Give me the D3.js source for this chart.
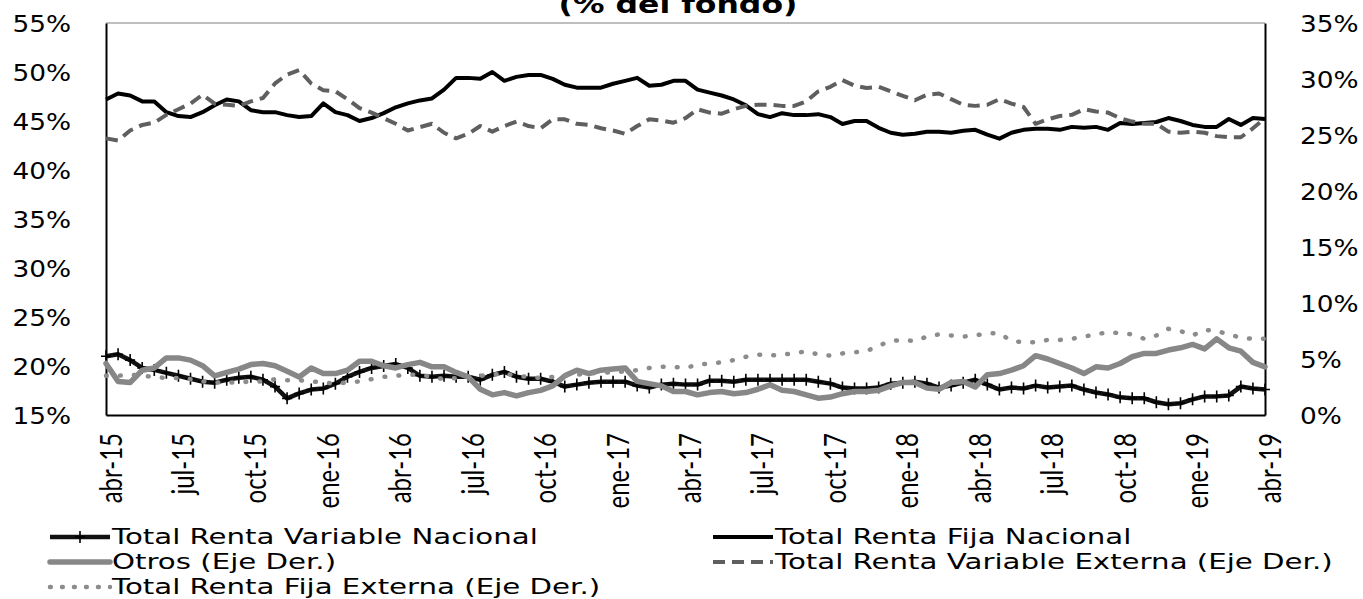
<!DOCTYPE html>
<html>
<head>
<meta charset="utf-8">
<script src="https://cdn.jsdelivr.net/npm/d3@7"></script>
<style>
  html, body { margin: 0; padding: 0; background: #fff; }
  svg { display: block; }
</style>
</head>
<body>
<svg id="chart" width="1363" height="599"></svg>
<script>
// Half-monthly observations, abr-2015 .. abr-2019 (97 points)
const tickLabels = ["abr-15","jul-15","oct-15","ene-16","abr-16","jul-16","oct-16","ene-17",
  "abr-17","jul-17","oct-17","ene-18","abr-18","jul-18","oct-18","ene-19","abr-19"];

// Left axis (% del fondo)
const rentaVariableNacional = [
  21.0,21.2,20.6,19.8,19.6,19.3,19.0,18.7,18.4,18.3,
  18.6,18.8,18.9,18.6,17.9,16.7,17.2,17.6,17.7,18.2,
  18.9,19.4,19.8,20.0,20.2,19.8,19.0,18.9,19.0,18.9,
  18.9,18.6,19.1,19.4,18.9,18.7,18.7,18.4,17.9,18.1,
  18.3,18.4,18.4,18.4,18.0,17.8,18.1,18.2,18.1,18.1,
  18.5,18.5,18.4,18.6,18.6,18.6,18.6,18.6,18.6,18.4,
  18.2,17.8,17.7,17.7,17.8,18.2,18.3,18.4,18.2,17.8,
  18.0,18.3,18.6,18.1,17.6,17.8,17.7,18.0,17.8,17.9,
  18.0,17.6,17.3,17.1,16.8,16.7,16.7,16.3,16.1,16.2,
  16.6,16.9,16.9,17.0,17.9,17.7,17.6];

const rentaFijaNacional = [
  47.2,47.8,47.6,47.0,47.0,45.9,45.5,45.4,45.9,46.6,
  47.2,47.0,46.1,45.9,45.9,45.6,45.4,45.5,46.8,45.9,
  45.6,45.0,45.3,45.8,46.4,46.8,47.1,47.3,48.2,49.4,
  49.4,49.3,50.0,49.1,49.5,49.7,49.7,49.3,48.7,48.4,
  48.4,48.4,48.8,49.1,49.4,48.6,48.7,49.1,49.1,48.2,
  47.9,47.6,47.2,46.6,45.7,45.4,45.8,45.6,45.6,45.7,
  45.4,44.7,45.0,45.0,44.3,43.8,43.6,43.7,43.9,43.9,
  43.8,44.0,44.1,43.6,43.2,43.8,44.1,44.2,44.2,44.1,
  44.4,44.3,44.4,44.1,44.8,44.7,44.8,44.9,45.3,45.0,
  44.6,44.4,44.4,45.2,44.6,45.3,45.2];

// Right axis (Eje Der.)
const otros = [
  4.6,3.0,2.9,4.0,4.2,5.1,5.1,4.9,4.4,3.5,
  3.8,4.1,4.5,4.6,4.4,3.9,3.4,4.2,3.7,3.7,
  4.0,4.8,4.8,4.4,4.2,4.5,4.7,4.3,4.3,3.8,
  3.4,2.3,1.8,2.0,1.7,2.0,2.2,2.6,3.5,4.0,
  3.7,4.0,4.1,4.2,3.0,2.8,2.6,2.1,2.1,1.8,
  2.0,2.1,1.9,2.0,2.3,2.7,2.2,2.1,1.8,1.5,
  1.6,1.9,2.1,2.1,2.2,2.6,2.9,2.9,2.4,2.3,
  2.9,3.0,2.5,3.6,3.7,4.0,4.4,5.3,5.0,4.6,
  4.2,3.7,4.3,4.2,4.6,5.2,5.5,5.5,5.8,6.0,
  6.3,5.9,6.8,6.0,5.7,4.7,4.3];

const rentaVariableExterna = [
  24.7,24.5,25.4,25.9,26.1,26.8,27.3,27.8,28.6,27.8,
  27.7,27.6,28.0,28.3,29.6,30.4,30.8,29.6,29.0,28.9,
  28.2,27.4,27.0,26.5,26.0,25.4,25.7,26.0,25.2,24.7,
  25.1,25.8,25.3,25.8,26.2,25.8,25.6,26.4,26.4,26.0,
  25.9,25.6,25.4,25.1,25.8,26.4,26.3,26.1,26.5,27.3,
  27.0,26.9,27.3,27.6,27.7,27.7,27.6,27.6,28.0,28.9,
  29.3,29.9,29.4,29.2,29.3,28.9,28.5,28.1,28.6,28.7,
  28.2,27.7,27.6,27.7,28.2,27.8,27.5,26.0,26.4,26.7,
  26.8,27.3,27.1,27.0,26.5,26.2,26.0,26.0,25.3,25.2,
  25.3,25.2,24.9,24.8,24.8,25.6,26.5];

const rentaFijaExterna = [
  3.5,3.5,3.6,3.5,3.4,3.3,3.3,3.2,3.0,2.9,
  2.9,2.9,3.0,3.0,3.2,3.1,3.1,3.0,2.9,2.8,
  2.9,3.0,3.2,3.4,3.5,3.6,3.6,3.4,3.2,3.3,
  3.4,3.5,3.6,3.7,3.5,3.4,3.3,3.4,3.5,3.6,
  3.7,3.8,3.8,3.9,4.0,4.2,4.3,4.3,4.2,4.5,
  4.6,4.7,4.9,5.2,5.4,5.3,5.4,5.5,5.7,5.4,
  5.3,5.5,5.6,5.7,6.2,6.6,6.7,6.6,7.0,7.2,
  7.1,7.0,7.1,7.3,7.3,6.6,6.5,6.5,6.7,6.7,
  6.8,7.0,7.2,7.4,7.3,7.2,6.8,7.1,7.7,7.5,
  7.1,7.6,7.5,7.2,6.9,6.8,6.8];

const leftTicks = [15, 20, 25, 30, 35, 40, 45, 50, 55];
const rightTicks = [0, 5, 10, 15, 20, 25, 30, 35];

// ---- layout ----
const plot = { left: 106, right: 1265, top: 23, bottom: 415 };
const SX = 1.26;               // lettering is set slightly wide
const SX_LEGEND = 1.36;
const FONT = "'DejaVu Sans', Verdana, sans-serif";

const svg = d3.select("#chart");

const x = d3.scaleLinear().domain([0, rentaFijaNacional.length - 1]).range([plot.left, plot.right]);
const yL = d3.scaleLinear().domain([15, 55]).range([plot.bottom, plot.top]);
const yR = d3.scaleLinear().domain([0, 35]).range([plot.bottom, plot.top]);

// title (sits mostly above the canvas)
svg.append("text")
  .attr("transform", `translate(678,12.5) scale(${SX},1)`)
  .attr("text-anchor", "middle")
  .attr("font-family", FONT)
  .attr("font-weight", "bold")
  .attr("font-size", 25)
  .attr("fill", "#000")
  .text("(% del fondo)");

// plot frame: thin grey top edge
svg.append("line")
  .attr("x1", plot.left).attr("x2", plot.right)
  .attr("y1", plot.top).attr("y2", plot.top)
  .attr("stroke", "#7f7f7f").attr("stroke-width", 1);

// axes
const pad = 35;
const gL = svg.append("g").attr("transform", `translate(${plot.left},0)`)
  .call(d3.axisLeft(yL).tickValues(leftTicks).tickFormat(d => d + "%").tickSize(0).tickPadding(pad));
const gR = svg.append("g").attr("transform", `translate(${plot.right},0)`)
  .call(d3.axisRight(yR).tickValues(rightTicks).tickFormat(d => d + "%").tickSize(0).tickPadding(pad));
const gB = svg.append("g").attr("transform", `translate(0,${plot.bottom})`)
  .call(d3.axisBottom(x).tickValues(d3.range(0, rentaFijaNacional.length, 6))
    .tickFormat((d, i) => tickLabels[i]).tickSize(0));

[gL, gR, gB].forEach(g => {
  g.select(".domain").attr("stroke", "#000").attr("stroke-width", 2);
  g.selectAll("text").attr("fill", "#000");
});

gL.selectAll("text")
  .attr("x", 0).attr("dy", "0.36em")
  .attr("transform", `translate(${-pad},0) scale(${SX * 0.93},1)`)
  .attr("font-family", FONT).attr("font-size", 22.5);
gR.selectAll("text")
  .attr("x", 0).attr("dy", "0.36em")
  .attr("transform", `translate(${pad},0) scale(${SX * 0.93},1)`)
  .attr("font-family", FONT).attr("font-size", 22.5);
gB.selectAll("text")
  .attr("x", 0).attr("y", 0).attr("dy", null)
  .attr("text-anchor", "end")
  .attr("transform", `translate(15,18) scale(${SX},1) rotate(-90)`)
  .attr("font-family", "Lato, 'Open Sans', sans-serif").attr("font-size", 24);

// series
const lineL = d3.line().x((d, i) => x(i)).y(d => yL(d));
const lineR = d3.line().x((d, i) => x(i)).y(d => yR(d));

const series = svg.append("g").attr("fill", "none")
  .attr("stroke-linejoin", "round");

// Total Renta Variable Nacional: black with "+" markers
series.append("path").datum(rentaVariableNacional)
  .attr("d", lineL).attr("stroke", "#111").attr("stroke-width", 4.5);
series.append("g").selectAll("path").data(rentaVariableNacional).join("path")
  .attr("transform", (d, i) => `translate(${x(i)},${yL(d)})`)
  .attr("d", "M-5,0H5M0,-6V6")
  .attr("stroke", "#000").attr("stroke-width", 1.6);

// Total Renta Fija Nacional: black solid
series.append("path").datum(rentaFijaNacional)
  .attr("d", lineL).attr("stroke", "#000").attr("stroke-width", 4);

// Otros: wide grey
series.append("path").datum(otros)
  .attr("d", lineR).attr("stroke", "#878787").attr("stroke-width", 5.5)
  .attr("stroke-linecap", "round");

// Total Renta Variable Externa: dark grey dashes
series.append("path").datum(rentaVariableExterna)
  .attr("d", lineR).attr("stroke", "#5f5f5f").attr("stroke-width", 4)
  .attr("stroke-dasharray", "12 7");

// Total Renta Fija Externa: grey dots
series.append("path").datum(rentaFijaExterna)
  .attr("d", lineR).attr("stroke", "#8c8c8c").attr("stroke-width", 4.5)
  .attr("stroke-linecap", "round").attr("stroke-dasharray", "0.8 13.2");

// legend
const legendItems = [
  { name: "Total Renta Variable Nacional", col: 0, row: 0, kind: "marker" },
  { name: "Total Renta Fija Nacional", col: 1, row: 0, kind: "solid" },
  { name: "Otros (Eje Der.)", col: 0, row: 1, kind: "wide" },
  { name: "Total Renta Variable Externa (Eje Der.)", col: 1, row: 1, kind: "dash" },
  { name: "Total Renta Fija Externa (Eje Der.)", col: 0, row: 2, kind: "dot" }
];
const colX = [50, 713];
const rowY = [544, 569, 594];
const sampleW = 60;

const leg = svg.append("g");
legendItems.forEach(it => {
  const x0 = colX[it.col], yb = rowY[it.row], ym = yb - 7;
  const g = leg.append("g");
  const ln = g.append("line").attr("x1", x0).attr("x2", x0 + sampleW)
    .attr("y1", ym).attr("y2", ym).attr("fill", "none");
  if (it.kind === "marker") {
    ln.attr("stroke", "#111").attr("stroke-width", 4.5);
    g.append("path").attr("transform", `translate(${x0 + sampleW / 2},${ym})`)
      .attr("d", "M-5,0H5M0,-6V6").attr("stroke", "#000").attr("stroke-width", 1.6);
  } else if (it.kind === "solid") {
    ln.attr("stroke", "#000").attr("stroke-width", 4);
  } else if (it.kind === "wide") {
    ln.attr("stroke", "#878787").attr("stroke-width", 5.5).attr("stroke-linecap", "round");
  } else if (it.kind === "dash") {
    ln.attr("stroke", "#5f5f5f").attr("stroke-width", 4).attr("stroke-dasharray", "12 7");
  } else {
    ln.attr("stroke", "#8c8c8c").attr("stroke-width", 4.5)
      .attr("stroke-linecap", "round").attr("stroke-dasharray", "0.8 11.2");
  }
  g.append("text")
    .attr("transform", `translate(${x0 + sampleW + 2},${yb}) scale(${SX_LEGEND},1)`)
    .attr("font-family", FONT).attr("font-size", 21.5).attr("fill", "#000")
    .text(it.name);
});
</script>
</body>
</html>
